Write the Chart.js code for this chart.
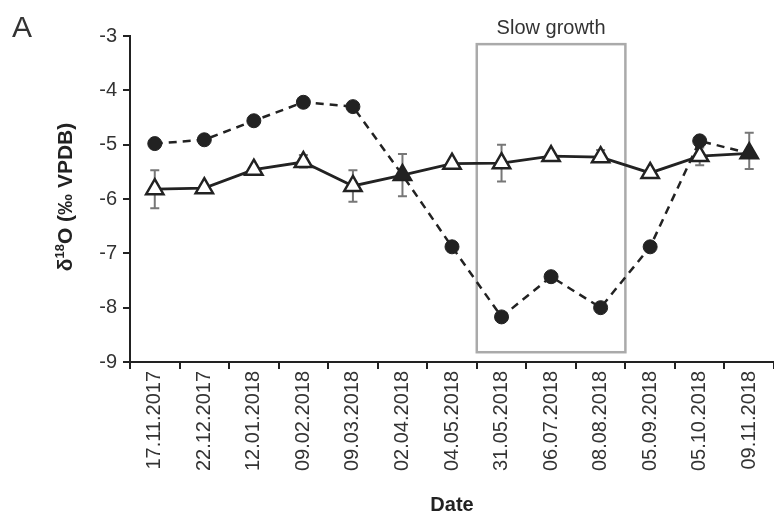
<!DOCTYPE html>
<html>
<head>
<meta charset="utf-8">
<script src="https://cdn.jsdelivr.net/npm/chart.js@4.4.1/dist/chart.umd.min.js"></script>
<style>
  html, body { margin: 0; padding: 0; background: #fff; }
  #wrap { width: 774px; height: 519px; position: relative; }
</style>
</head>
<body>
<div id="wrap"><canvas id="isoChart"></canvas></div>
<script>
// Data ------------------------------------------------------------------

const dates = ['17.11.2017', '22.12.2017', '12.01.2018', '09.02.2018', '09.03.2018',
  '02.04.2018', '04.05.2018', '31.05.2018', '06.07.2018', '08.08.2018',
  '05.09.2018', '05.10.2018', '09.11.2018'];

// dashed series (filled circles)
const dashedValues = [-4.98, -4.91, -4.56, -4.22, -4.30, -5.56, -6.88, -8.17, -7.43, -8.00, -6.88, -4.93, -5.16];

// solid series (open triangles) and its error bars
const solidValues = [-5.82, -5.80, -5.46, -5.32, -5.76, -5.56, -5.35, -5.34, -5.21, -5.23, -5.52, -5.21, -5.16];
const errLow  = [-6.17, -5.86, null, -5.42, -6.05, -5.95, null, -5.68, null, -5.30, null, -5.38, -5.45];
const errHigh = [-5.47, -5.74, null, -5.19, -5.47, -5.17, null, -5.00, null, -5.10, null, -5.05, -4.78];

const yTicks = [-3, -4, -5, -6, -7, -8, -9];

// slow growth period: from between idx 6/7 to between idx 9/10
const slowGrowth = { from: 6.5, to: 9.5, top: -3.15, bottom: -8.82 };

// the two overlapping points are drawn as filled triangles
const dashedStyles = dashedValues.map((v, i) => (i === 5 || i === 12) ? 'triangle' : 'circle');
const dashedRadius = dashedValues.map((v, i) => (i === 5 || i === 12) ? 10 : 7);

const FONT = "'Liberation Sans', Arial, sans-serif";
const INK = '#222';

// Plugins ---------------------------------------------------------------

// box + error bars, under the lines
const underlay = {
  id: 'underlay',
  beforeDatasetsDraw(chart) {
    const ctx = chart.ctx;
    const x = chart.scales.x, y = chart.scales.y;

    // slow growth box
    const half = (x.getPixelForValue(1) - x.getPixelForValue(0)) / 2;
    const left = x.getPixelForValue(Math.floor(slowGrowth.from)) + half;
    const right = x.getPixelForValue(Math.floor(slowGrowth.to)) + half;
    const top = y.getPixelForValue(slowGrowth.top);
    const bottom = y.getPixelForValue(slowGrowth.bottom);
    ctx.save();
    ctx.strokeStyle = '#aaa';
    ctx.lineWidth = 2.5;
    ctx.strokeRect(left, top, right - left, bottom - top);
    ctx.fillStyle = '#333';
    ctx.font = '20px ' + FONT;
    ctx.textAlign = 'center';
    ctx.textBaseline = 'middle';
    ctx.fillText('Slow growth', (left + right) / 2, 28);
    ctx.restore();

    // error bars
    ctx.save();
    ctx.strokeStyle = '#777';
    ctx.lineWidth = 2;
    for (let i = 0; i < dates.length; i++) {
      if (errLow[i] === null) continue;
      const px = x.getPixelForValue(i);
      const y1 = y.getPixelForValue(errLow[i]);
      const y2 = y.getPixelForValue(errHigh[i]);
      ctx.beginPath();
      ctx.moveTo(px, y1); ctx.lineTo(px, y2);
      ctx.moveTo(px - 4.5, y1); ctx.lineTo(px + 4.5, y1);
      ctx.moveTo(px - 4.5, y2); ctx.lineTo(px + 4.5, y2);
      ctx.stroke();
    }
    ctx.restore();
  }
};

// panel letter and y axis title with superscript
const labels = {
  id: 'labels',
  afterDraw(chart) {
    const ctx = chart.ctx;
    ctx.save();
    ctx.fillStyle = '#333';
    ctx.font = '30px ' + FONT;
    ctx.textBaseline = 'alphabetic';
    ctx.fillText('A', 12, 37);

    // δ18O (‰ VPDB)
    ctx.translate(66, 197);
    ctx.rotate(-Math.PI / 2);
    ctx.fillStyle = INK;
    const big = 'bold 21px ' + FONT, small = 'bold 13px ' + FONT;
    ctx.font = big;
    const w1 = ctx.measureText('δ').width;
    const w3 = ctx.measureText('O (‰ VPDB)').width;
    ctx.font = small;
    const w2 = ctx.measureText('18').width;
    let xx = -(w1 + w2 + w3) / 2;
    ctx.textBaseline = 'middle';
    ctx.font = big;
    ctx.fillText('δ', xx, 0); xx += w1;
    ctx.font = small;
    ctx.fillText('18', xx, -6); xx += w2;
    ctx.font = big;
    ctx.fillText('O (‰ VPDB)', xx, 0);
    ctx.restore();
  }
};

// Chart -----------------------------------------------------------------

const data = {
  labels: dates,
  datasets: [{
    label: 'dashed series',
    data: dashedValues,
    borderColor: INK,
    borderWidth: 2.5,
    borderDash: [8, 6],
    pointStyle: dashedStyles,
    pointRadius: dashedRadius,
    pointBackgroundColor: INK,
    pointBorderColor: INK,
    pointBorderWidth: 1,
    tension: 0
  }, {
    label: 'solid series',
    data: solidValues,
    borderColor: INK,
    borderWidth: 2.8,
    pointStyle: 'triangle',
    pointRadius: 10,
    pointBackgroundColor: '#fff',
    pointBorderColor: INK,
    pointBorderWidth: 2.5,
    tension: 0
  }]
};

const config = {
  type: 'line',
  data,
  options: {
    responsive: true,
    maintainAspectRatio: false,
    animation: false,
    layout: { autoPadding: false, padding: { top: 36, right: 0, left: 0, bottom: 0 } },
    plugins: {
      legend: { display: false },
      tooltip: { enabled: false }
    },
    scales: {
      x: {
        type: 'category',
        offset: true,
        afterFit: (s) => { s.height = 157; s.paddingLeft = 0; s.paddingRight = 0; },
        grid: { offset: true, drawOnChartArea: false, tickLength: 7, color: INK, lineWidth: 2 },
        border: { color: INK, width: 2 },
        ticks: {
          autoSkip: false, minRotation: 90, maxRotation: 90, padding: 2,
          color: '#333', font: { family: FONT, size: 20 }
        },
        title: {
          display: true, text: 'Date', color: INK,
          font: { family: FONT, size: 20, weight: 'bold' },
          padding: { top: 0, bottom: 2 }
        }
      },
      y: {
        min: -9, max: -3,
        afterFit: (s) => { s.width = 130; },
        afterBuildTicks: (s) => { s.ticks = yTicks.map(v => ({ value: v })); },
        grid: { drawOnChartArea: false, tickLength: 7, color: INK, lineWidth: 2 },
        border: { color: INK, width: 2 },
        ticks: { padding: 6, color: '#333', font: { family: FONT, size: 20 } }
      }
    }
  },
  plugins: [underlay, labels]
};

const isoChart = new Chart(document.getElementById('isoChart'), config);
</script>
</body>
</html>
